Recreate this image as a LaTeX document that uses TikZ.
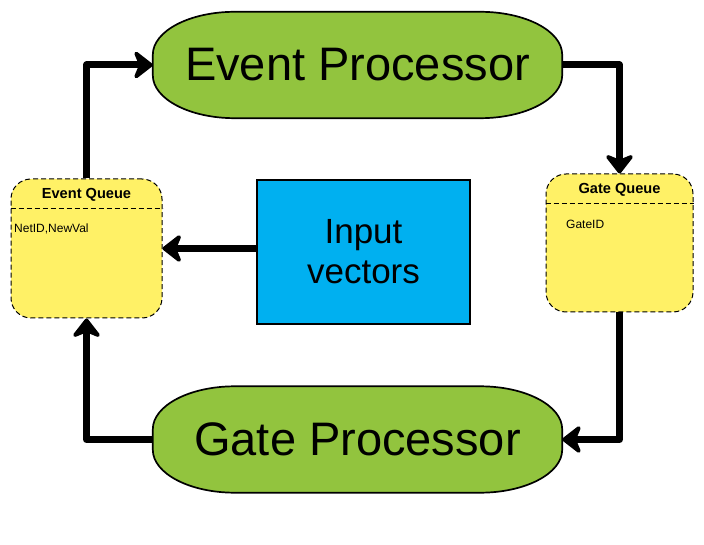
\documentclass[tikz,border=0pt]{standalone}
\usepackage{fontspec}
\setmainfont{Liberation Sans}
\usetikzlibrary{arrows.meta,backgrounds,calc}
\definecolor{procgreen}{RGB}{146,196,62}
\definecolor{queueyellow}{RGB}{255,241,102}
\definecolor{inputcyan}{RGB}{0,176,240}
\tikzset{
  proc/.style={rectangle, inner sep=0pt, minimum width=409pt, minimum height=106pt,
    font=\fontsize{47}{52}\selectfont},
  procshape/.style={fill=procgreen, draw=black, line width=1.7pt},
  queuebox/.style={rectangle, rounded corners=20pt, fill=queueyellow, draw=black,
    line width=1pt, dash pattern=on 5pt off 3pt, inner sep=0pt},
  qtitle/.style={font=\bfseries\fontsize{14.6}{17}\selectfont, inner sep=0pt},
  qitem/.style={font=\fontsize{12}{14}\selectfont, inner sep=0pt, anchor=west},
  qdivider/.style={draw=black, line width=1pt, dash pattern=on 5pt off 3pt},
  inbox/.style={rectangle, fill=inputcyan, draw=black, line width=2pt,
    minimum width=213pt, minimum height=144pt, inner sep=0pt, align=center,
    font=\fontsize{35}{40}\selectfont},
  flow/.style={line width=7pt, line join=round,
    -{Stealth[length=22pt, width=34pt, inset=7pt, round]}},
}
\newcommand\procoutline[1]{%
  \path[procshape] let \p1=(#1.south west), \p2=(#1.north east) in
    (\x2-82pt,\y2) -- (\x1+82pt,\y2)
    arc[start angle=90, end angle=180, x radius=82pt, y radius=43pt]
    -- (\x1,\y1+43pt)
    arc[start angle=180, end angle=270, x radius=82pt, y radius=43pt]
    -- (\x2-82pt,\y1)
    arc[start angle=270, end angle=360, x radius=82pt, y radius=43pt]
    -- (\x2,\y2-43pt)
    arc[start angle=0, end angle=90, x radius=82pt, y radius=43pt]
    -- cycle;}
\begin{document}
\begin{tikzpicture}[x=1pt, y=1pt]
\useasboundingbox (0,0) rectangle (704,544);

% processors
\node[proc] (ep) at (357.5,479) {Event Processor};
\node[proc] (gp) at (357.5,104.5) {Gate Processor};
\begin{scope}[on background layer]
  \procoutline{ep}
  \procoutline{gp}
\end{scope}

% queues
\node[queuebox, minimum width=151pt, minimum height=139pt] (eq) at (86.5,295.5) {};
\draw[qdivider] ($(eq.north west)+(0,-30)$) -- ($(eq.north east)+(0,-30)$);
\node[qtitle] (eqt) at ($(eq.north)+(0,-16)$) {Event Queue};
\node[qitem] (eqi) at (14,315) {NetID,NewVal};

\node[queuebox, minimum width=147pt, minimum height=138pt] (gq) at (619.5,301) {};
\draw[qdivider] ($(gq.north west)+(0,-30)$) -- ($(gq.north east)+(0,-30)$);
\node[qtitle] (gqt) at ($(gq.north)+(0,-16)$) {Gate Queue};
\node[qitem] (gqi) at (566,320) {GateID};

% input vectors
\node[inbox] (iv) at (363.5,292) {Input\\vectors};

% connectors
\draw[flow] (eq.north) |- (ep.west);
\draw[flow] (ep.east) -| (gq.north);
\draw[flow] (gq.south) |- (gp.east);
\draw[flow] (gp.west) -| (eq.south);
\draw[flow] (iv.west |- eq.east) -- (eq.east);
\end{tikzpicture}
\end{document}
